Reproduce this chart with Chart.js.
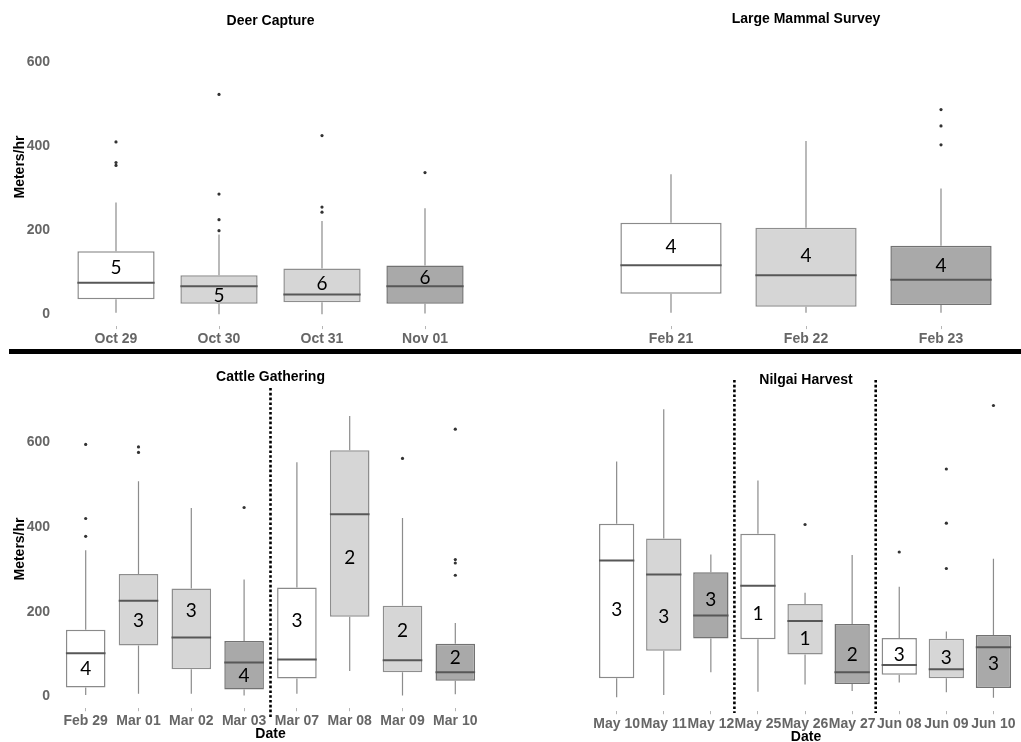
<!DOCTYPE html>
<html><head><meta charset="utf-8">
<script src="https://cdn.jsdelivr.net/npm/chart.js@4.4.1/dist/chart.umd.min.js"></script>
<style>
body{margin:0;background:#fff;width:1021px;height:742px;position:relative;overflow:hidden;font-family:"Liberation Sans",Arial,sans-serif;}
canvas{position:absolute;}
.t{position:absolute;font-weight:bold;font-size:14px;line-height:16px;color:#000;transform:translate(-50%,-50%);white-space:nowrap;}
.yt{position:absolute;font-weight:bold;font-size:14px;line-height:16px;color:#000;transform:translate(-50%,-50%) rotate(-90deg);white-space:nowrap;}
#sep{position:absolute;left:9px;top:348.5px;width:1012px;height:5.5px;background:#000;}
</style></head><body>
<canvas id="c1" width="510" height="348" style="left:0;top:0"></canvas>
<canvas id="c2" width="511" height="348" style="left:510px;top:0"></canvas>
<canvas id="c3" width="510" height="387" style="left:0;top:355px"></canvas>
<canvas id="c4" width="511" height="387" style="left:510px;top:355px"></canvas>
<div id="sep"></div>
<div class="t" style="left:270.5px;top:19.5px">Deer Capture</div>
<div class="t" style="left:806px;top:18px">Large Mammal Survey</div>
<div class="t" style="left:270.5px;top:376px">Cattle Gathering</div>
<div class="t" style="left:806px;top:379px">Nilgai Harvest</div>
<div class="yt" style="left:19px;top:167px">Meters/hr</div>
<div class="yt" style="left:19px;top:549px">Meters/hr</div>
<div class="t" style="left:270.5px;top:733px">Date</div>
<div class="t" style="left:806px;top:736px">Date</div>
<script>
// ---------- data ----------
const yTickValues = [0, 200, 400, 600];

const deerDates = ['Oct 29', 'Oct 30', 'Oct 31', 'Nov 01'];
const deerQ1 = [36, 25, 29, 25];
const deerMedian = [75, 67, 47, 67];
const deerQ3 = [150, 93, 109, 116];
const deerLow = [4, 0, 0, 2];
const deerHigh = [266, 190, 222, 252];
const deerOutliers = [[410, 361, 354], [523, 286, 225, 199], [425, 255, 243], [337]];
const deerCounts = [5, 5, 6, 6];
const deerCountAt = [110, 44, 72, 87];

const mammalDates = ['Feb 21', 'Feb 22', 'Feb 23'];
const mammalQ1 = [49, 18, 22];
const mammalMedian = [117, 93, 82];
const mammalQ3 = [218, 206, 163];
const mammalLow = [4, 4, 4];
const mammalHigh = [333, 412, 299];
const mammalOutliers = [[], [], [487, 448, 403]];
const mammalCounts = [4, 4, 4];
const mammalCountAt = [160, 139, 116];

const cattleDates = ['Feb 29', 'Mar 01', 'Mar 02', 'Mar 03', 'Mar 07', 'Mar 08', 'Mar 09', 'Mar 10'];
const cattleQ1 = [21, 120, 64, 16, 42, 188, 57, 37];
const cattleMedian = [102, 226, 139, 80, 87, 430, 85, 57];
const cattleQ3 = [157, 289, 255, 131, 257, 581, 214, 124];
const cattleLow = [3, 6, 6, 2, 6, 60, 2, 5];
const cattleHigh = [345, 508, 445, 276, 553, 662, 421, 173];
const cattleOutliers = [[595, 420, 378], [589, 576], [], [446], [], [], [562], [631, 323, 315, 286]];
const cattleCounts = [4, 3, 3, 4, 3, 2, 2, 2];
const cattleCountAt = [64, 178, 202, 49, 178, 326, 154, 91];

const nilgaiDates = ['May 10', 'May 11', 'May 12', 'May 25', 'May 26', 'May 27', 'Jun 08', 'Jun 09', 'Jun 10'];
const nilgaiQ1 = [50, 115, 144, 142, 106, 36, 58, 50, 27];
const nilgaiMedian = [328, 295, 198, 268, 185, 64, 81, 71, 123];
const nilgaiQ3 = [415, 380, 300, 391, 225, 178, 145, 143, 152];
const nilgaiLow = [5, 10, 64, 18, 35, 20, 40, 17, 4];
const nilgaiHigh = [562, 685, 342, 517, 252, 341, 266, 160, 332];
const nilgaiOutliers = [[], [], [], [], [413], [], [348], [544, 416, 309], [694]];
const nilgaiCounts = [3, 3, 3, 1, 1, 2, 3, 3, 3];
const nilgaiCountAt = [211, 195, 235, 201, 144, 105, 105, 97, 83];

// ---------- styles ----------
const SHADE = { w: '#ffffff', l: '#d6d6d6', d: '#a9a9a9' };
const EDGE = { w: '#8a8a8a', l: '#8e8e8e', d: '#727272' };

const boxExtras = {
  id: 'boxExtras',
  beforeDatasetsDraw(chart) {
    const o = chart.options.plugins.boxExtras;
    const x = chart.scales.x, y = chart.scales.y, ctx = chart.ctx;
    ctx.save();
    ctx.strokeStyle = '#8c8c8c';
    ctx.lineWidth = 1.2;
    o.labels.forEach((lab, i) => {
      const px = x.getPixelForValue(i);
      ctx.beginPath();
      ctx.moveTo(px, y.getPixelForValue(o.low[i]));
      ctx.lineTo(px, y.getPixelForValue(o.q1[i]));
      ctx.moveTo(px, y.getPixelForValue(o.q3[i]));
      ctx.lineTo(px, y.getPixelForValue(o.high[i]));
      ctx.stroke();
    });
    ctx.restore();
  },
  afterDatasetsDraw(chart) {
    const o = chart.options.plugins.boxExtras;
    const y = chart.scales.y, ctx = chart.ctx;
    const meta = chart.getDatasetMeta(0);
    ctx.save();
    ctx.strokeStyle = '#575757';
    ctx.lineWidth = 2;
    meta.data.forEach((bar, i) => {
      const py = y.getPixelForValue(o.median[i]);
      ctx.beginPath();
      ctx.moveTo(bar.x - bar.width / 2, py);
      ctx.lineTo(bar.x + bar.width / 2, py);
      ctx.stroke();
    });
    ctx.fillStyle = '#000';
    ctx.font = '19px Lato, "Open Sans", sans-serif';
    ctx.textAlign = 'center';
    ctx.textBaseline = 'middle';
    meta.data.forEach((bar, i) => {
      ctx.fillText(String(o.counts[i]), bar.x, y.getPixelForValue(o.countAt[i]));
    });
    ctx.restore();
  },
  afterDraw(chart) {
    const o = chart.options.plugins.boxExtras;
    if (!o.splits) return;
    const x = chart.scales.x, ctx = chart.ctx;
    ctx.save();
    ctx.strokeStyle = '#000';
    ctx.lineWidth = 2.6;
    ctx.setLineDash([2.6, 2.2]);
    o.splits.forEach(s => {
      const px = (x.getPixelForValue(s) + x.getPixelForValue(s + 1)) / 2;
      ctx.beginPath();
      ctx.moveTo(px, o.splitTop);
      ctx.lineTo(px, o.splitBottom);
      ctx.stroke();
    });
    ctx.restore();
  }
};

function boxPanel(id, d, L) {
  const W = L.W, H = L.H;
  const outPts = [];
  d.out.forEach((arr, i) => arr.forEach(v => outPts.push({ x: d.labels[i], y: v })));
  new Chart(document.getElementById(id), {
    type: 'bar',
    data: {
      labels: d.labels,
      datasets: [
        {
          type: 'bar',
          data: d.q1.map((v, i) => [v, d.q3[i]]),
          backgroundColor: d.shades.map(s => SHADE[s]),
          borderColor: d.shades.map(s => EDGE[s]),
          borderWidth: 1.5,
          borderSkipped: false,
          barPercentage: 0.75,
          categoryPercentage: 1.0,
          order: 2
        },
        {
          type: 'scatter',
          data: outPts,
          pointRadius: 1.6,
          pointBackgroundColor: '#333',
          pointBorderWidth: 0,
          order: 1
        }
      ]
    },
    options: {
      responsive: false,
      devicePixelRatio: 1,
      animation: false,
      layout: { padding: { left: L.showY ? 0 : L.left, right: W - L.right, top: L.top, bottom: 0 } },
      plugins: {
        legend: { display: false },
        tooltip: { enabled: false },
        title: { display: false },
        boxExtras: {
          labels: d.labels, q1: d.q1, q3: d.q3, median: d.median, low: d.low, high: d.high,
          counts: d.counts, countAt: d.countAt,
          splits: L.splits, splitTop: L.splitTop, splitBottom: L.splitBottom
        }
      },
      scales: {
        x: {
          type: 'category',
          offset: true,
          grid: { display: true, offset: false, drawOnChartArea: false, drawTicks: true, tickLength: 3, color: '#b5b5b5' },
          border: { display: false },
          ticks: { autoSkip: false, maxRotation: 0, minRotation: 0, padding: 2, color: '#666',
                   font: { family: '"Liberation Sans", Arial, sans-serif', size: 14, weight: 'bold' } },
          afterFit(s) { s.height = H - L.bottom; s.paddingLeft = 0; s.paddingRight = 0; }
        },
        y: {
          type: 'linear',
          display: L.showY,
          min: L.yMin, max: L.yMax,
          grid: { display: false, drawTicks: false, tickLength: 0 },
          border: { display: false },
          afterBuildTicks(s) { s.ticks = yTickValues.map(v => ({ value: v })); },
          ticks: { padding: L.yPad, color: '#666',
                   font: { family: '"Liberation Sans", Arial, sans-serif', size: 14, weight: 'bold' } },
          afterFit(s) { if (L.showY) s.width = L.left; s.paddingTop = 0; s.paddingBottom = 0; }
        }
      }
    },
    plugins: [boxExtras]
  });
}

boxPanel('c1', {
  labels: deerDates, q1: deerQ1, median: deerMedian, q3: deerQ3, low: deerLow, high: deerHigh,
  out: deerOutliers, counts: deerCounts, countAt: deerCountAt, shades: ['w', 'l', 'l', 'd']
}, { W: 510, H: 348, left: 64.5, right: 476.5, top: 45.2, bottom: 326.1, yMin: -28, yMax: 640, showY: true, yPad: 14.5 });

boxPanel('c2', {
  labels: mammalDates, q1: mammalQ1, median: mammalMedian, q3: mammalQ3, low: mammalLow, high: mammalHigh,
  out: mammalOutliers, counts: mammalCounts, countAt: mammalCountAt, shades: ['w', 'l', 'd']
}, { W: 511, H: 348, left: 93.5, right: 498.5, top: 45.2, bottom: 326.1, yMin: -28, yMax: 640, showY: false, yPad: 0 });

boxPanel('c3', {
  labels: cattleDates, q1: cattleQ1, median: cattleMedian, q3: cattleQ3, low: cattleLow, high: cattleHigh,
  out: cattleOutliers, counts: cattleCounts, countAt: cattleCountAt, shades: ['w', 'l', 'l', 'd', 'w', 'l', 'l', 'd']
}, { W: 510, H: 387, left: 59.3, right: 481.7, top: 36.5, bottom: 353.2, yMin: -28, yMax: 720, showY: true, yPad: 9.3,
     splits: [3], splitTop: 33, splitBottom: 364 });

boxPanel('c4', {
  labels: nilgaiDates, q1: nilgaiQ1, median: nilgaiMedian, q3: nilgaiQ3, low: nilgaiLow, high: nilgaiHigh,
  out: nilgaiOutliers, counts: nilgaiCounts, countAt: nilgaiCountAt, shades: ['w', 'l', 'd', 'w', 'l', 'd', 'w', 'l', 'd']
}, { W: 511, H: 387, left: 83.1, right: 507.9, top: 39.5, bottom: 356.2, yMin: -28, yMax: 720, showY: false, yPad: 0,
     splits: [2, 5], splitTop: 25, splitBottom: 358 });
</script>
</body></html>
